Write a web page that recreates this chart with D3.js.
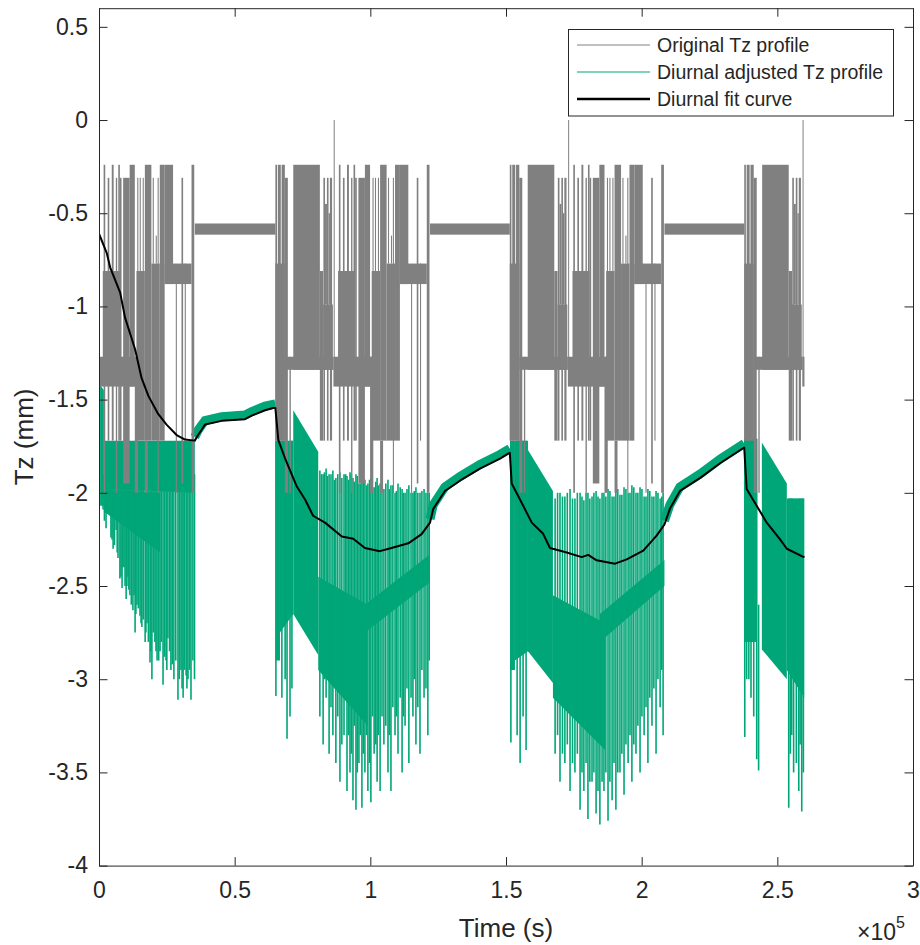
<!DOCTYPE html>
<html>
<head>
<meta charset="utf-8">
<script src="https://cdn.jsdelivr.net/npm/d3@7"></script>
<style>
  body { margin: 0; background: #fff; }
  svg text { font-family: "Liberation Sans", Arial, Helvetica, sans-serif; fill: #262626; }
</style>
</head>
<body>
<svg id="chart" width="920" height="945"></svg>
<script>
// ---- data (time in s, Tz in mm) ----

// the original profile repeats each day: blocks of dense oscillation, [start, end, top, bottom], seconds from day start
const grayPattern = [
  [0, 600, -0.24, -1.72], [900, 2000, -0.24, -1.72], [2300, 3500, -0.24, -1.72],
  [0, 3500, -0.77, -1.72], [3500, 4600, -0.31, -2.0], [3500, 21400, -1.27, -1.34],
  [21400, 36100, -1.27, -1.43],
  [5200, 5700, -1.27, -2.0], [6600, 16400, -0.24, -1.34], [16400, 17600, -0.81, -1.72],
  [17600, 21200, -0.99, -1.34], [17700, 18300, -0.31, -1.72], [18300, 19000, -0.45, -0.99],
  [19000, 19600, -0.31, -1.72], [19600, 20100, -0.5, -0.99],
  [20100, 20900, -0.31, -1.72], [21500, 21800, 0.0, -1.34], [23100, 29400, -0.81, -1.34],
  [23400, 24000, -0.24, -2.0], [24900, 25500, -0.31, -1.72], [26400, 27100, -0.24, -1.72],
  [27900, 28400, -0.31, -2.0], [28800, 29400, -0.24, -1.72], [29400, 30000, -0.31, -1.72],
  [30600, 33000, -0.31, -1.95], [33000, 34900, -0.24, -1.43], [34900, 36100, -1.27, -2.0],
  [35500, 38600, -0.81, -1.72], [35800, 36200, -0.31, -0.81], [36700, 37100, -0.31, -0.81],
  [37800, 38200, -0.31, -0.81], [38600, 41000, -0.24, -1.72], [38600, 39700, -1.72, -2.0],
  [41000, 44100, -0.77, -1.72], [41500, 41900, -0.31, -0.77], [42600, 43000, -0.62, -0.77],
  [43300, 43700, -0.31, -2.0], [44100, 45900, -0.24, -1.72], [45900, 49000, -0.24, -0.88],
  [45900, 55800, -0.77, -0.88], [50000, 50400, -0.88, -2.0], [52100, 52700, -0.31, -1.95],
  [53300, 53700, -0.77, -1.72], [55800, 56800, -0.24, -2.0]
];
const dayStarts = [-21700, 65000, 151400, 237800];
const nightSpans = [[35300, 65000], [122000, 151400], [208400, 237800]];
const nightLevel = [-0.555, -0.615];
const dataEnd = 260000;

// adjusted profile: dense blocks [t0, t1, top0, top1, bottom0, bottom1]
const greenBlocks = [
  [400, 1800, -1.42, -1.45, -2.07, -2.07],
  [1800, 35300, -1.72, -1.72, -1.98, -2.0],
  [1800, 22500, -1.98, -2.0, -2.1, -2.32],
  [65100, 66700, -1.72, -1.72, -2.9, -2.9],
  [66700, 71600, -1.72, -1.72, -2.75, -2.65],
  [71600, 80800, -1.557, -1.78, -2.65, -2.87],
  [80800, 99000, -2.45, -2.6, -2.95, -3.25],
  [98000, 122000, -2.6, -2.33, -2.75, -2.48],
  [151500, 153300, -1.72, -1.72, -2.95, -2.95],
  [153300, 158100, -1.72, -1.72, -2.9, -2.85],
  [158100, 167300, -1.77, -1.99, -2.85, -3.02],
  [167300, 186500, -2.55, -2.7, -3.1, -3.38],
  [184600, 208400, -2.65, -2.36, -2.8, -2.5],
  [237800, 242400, -1.71, -1.71, -2.8, -2.8],
  [244300, 253500, -1.73, -1.95, -2.84, -3.0],
  [253500, 259900, -2.03, -2.03, -2.95, -3.1]
];

// adjusted profile: single downward strokes [t, top, bottom]
const greenSpikes = [
  // day 1
  [1500, -1.9, -2.09], [2000, -1.9, -2.15], [2600, -1.9, -2.19], [3100, -1.9, -2.1], [3700, -1.9, -2.05],
  [4400, -1.9, -2.24], [4800, -1.9, -2.25], [5200, -1.9, -2.3], [5700, -1.9, -2.28], [6300, -1.9, -2.2],
  [6700, -1.9, -2.32], [7000, -1.9, -2.35], [7700, -1.9, -2.46], [8100, -1.9, -2.45], [8500, -1.9, -2.51],
  [8800, -1.9, -2.4], [9200, -1.9, -2.4], [9600, -1.9, -2.5], [10000, -1.9, -2.57], [10300, -1.9, -2.5],
  [10700, -1.9, -2.45], [11000, -1.9, -2.52], [11400, -1.9, -2.55], [11900, -1.9, -2.6], [12500, -1.9, -2.63],
  [12900, -1.9, -2.55], [13300, -1.9, -2.75], [13600, -1.9, -2.65], [14000, -1.9, -2.6], [14500, -1.9, -2.62],
  [15100, -1.9, -2.66], [15500, -1.9, -2.7], [15800, -1.9, -2.72], [16300, -1.9, -2.68], [17000, -1.9, -2.8],
  [17300, -1.9, -2.75], [17700, -1.9, -2.7], [18200, -1.9, -2.8], [18800, -1.9, -2.91], [19100, -1.9, -2.85],
  [19500, -1.9, -3.0], [20000, -1.9, -2.75], [20600, -1.9, -2.8], [21000, -1.9, -2.85], [21400, -1.9, -2.9],
  [22000, -1.9, -2.9], [22500, -1.9, -2.85], [23000, -1.9, -2.8], [23600, -1.9, -3.03], [24100, -1.9, -2.88],
  [24700, -1.9, -2.9], [25000, -1.9, -2.95], [25400, -1.9, -2.78], [26000, -1.9, -2.85], [26500, -1.9, -2.95],
  [27000, -1.9, -2.92], [27600, -1.9, -3.0], [28300, -1.9, -2.9], [29100, -1.9, -3.11], [29600, -1.9, -3.0],
  [30200, -1.9, -2.95], [30600, -1.9, -3.05], [31000, -1.9, -3.1], [31500, -1.9, -2.95], [32100, -1.9, -2.98],
  [32400, -1.9, -3.05], [32800, -1.9, -3.0], [33400, -1.9, -2.95], [33900, -1.9, -3.11], [34600, -1.9, -2.9],
  [35200, -1.9, -3.0],
  // day 2
  [65200, -1.72, -3.09], [67400, -1.72, -3.1], [68600, -1.72, -3.0], [69300, -1.72, -3.32], [70400, -1.72, -3.2],
  [71100, -1.72, -3.05], [81400, -1.88, -3.2], [82000, -1.9, -2.9], [82600, -1.9, -3.35], [83100, -1.89, -3.0],
  [83700, -1.87, -3.1], [84200, -1.91, -2.95], [84800, -1.9, -3.4], [85500, -1.9, -3.15], [86200, -1.88, -3.3],
  [86800, -1.93, -3.05], [87300, -1.92, -3.45], [88000, -1.9, -3.2], [88800, -1.89, -3.55], [89500, -1.92, -3.35],
  [90300, -1.9, -3.3], [90900, -1.9, -3.1], [91400, -1.91, -3.6], [92000, -1.93, -3.3], [92500, -1.89, -3.5],
  [93000, -1.9, -3.4], [93600, -1.92, -3.65], [94100, -1.94, -3.25], [94700, -1.9, -3.7], [95200, -1.91, -3.5],
  [95800, -1.95, -3.45], [96300, -1.95, -3.3], [96900, -1.9, -3.69], [97400, -1.92, -3.4], [98000, -1.93, -3.5],
  [98600, -1.96, -3.3], [99100, -1.95, -3.6], [99700, -1.93, -3.45], [100200, -1.92, -3.66], [100800, -1.97, -3.2],
  [101400, -1.97, -3.4], [102000, -1.94, -3.35], [102500, -1.92, -3.55], [103000, -1.96, -3.3], [103600, -1.95, -3.6],
  [104300, -1.97, -3.2], [105000, -1.98, -3.35], [105700, -1.95, -3.25], [106500, -1.93, -3.5], [107000, -1.98, -3.3],
  [107600, -1.96, -3.6], [108300, -1.96, -3.15], [109100, -2.0, -3.3], [109600, -1.99, -3.2], [110200, -1.95, -3.4],
  [111000, -1.97, -3.1], [111700, -1.98, -3.5], [112200, -2.0, -3.2], [112800, -2.0, -3.25], [113500, -1.98, -3.05],
  [114200, -1.96, -3.45], [115000, -2.0, -3.1], [115700, -2.0, -3.2], [116200, -1.99, -3.0], [116800, -1.97, -3.35],
  [117500, -2.0, -3.15], [118300, -2.0, -3.4], [119000, -1.99, -2.95], [119800, -1.98, -3.1], [120500, -2.0, -3.05],
  [121200, -2.0, -3.3], [121700, -2.0, -2.9],
  // day 3
  [151800, -1.72, -3.34], [154100, -1.72, -3.3], [155200, -1.72, -3.45], [156300, -1.72, -3.2], [157400, -1.72, -3.38],
  [168100, -2.03, -3.4], [169000, -2.0, -3.3], [169900, -2.0, -3.55], [170800, -2.02, -3.4], [171700, -2.02, -3.45],
  [172600, -2.0, -3.35], [173600, -1.98, -3.6], [174500, -2.03, -3.45], [175400, -2.03, -3.5], [176300, -2.0, -3.4],
  [177300, -2.0, -3.7], [178000, -2.02, -3.5], [178700, -2.04, -3.6], [179500, -2.0, -3.45], [180200, -2.0, -3.75],
  [180900, -2.03, -3.55], [181700, -2.02, -3.55], [182400, -2.0, -3.5], [183200, -1.99, -3.72], [183900, -2.02, -3.6],
  [184600, -2.03, -3.78], [185400, -2.0, -3.55], [186100, -2.0, -3.6], [186800, -2.02, -3.5], [187600, -1.98, -3.76],
  [188300, -1.99, -3.55], [189100, -2.02, -3.65], [189800, -2.02, -3.45], [190500, -1.97, -3.7], [191200, -1.98, -3.5],
  [192000, -2.01, -3.5], [192700, -2.01, -3.4], [193500, -1.97, -3.62], [194200, -1.98, -3.35], [195000, -2.0, -3.45],
  [195700, -2.0, -3.3], [196400, -1.96, -3.55], [197100, -1.97, -3.35], [197900, -2.0, -3.4], [198600, -2.0, -3.25],
  [199400, -1.97, -3.5], [200100, -1.98, -3.2], [200900, -2.02, -3.3], [201600, -2.02, -3.15], [202300, -1.98, -3.45],
  [203000, -1.99, -3.1], [203800, -2.02, -3.25], [204500, -2.02, -3.05], [205300, -1.99, -3.4], [206000, -2.0, -3.0],
  [206800, -2.03, -3.15], [207400, -2.02, -2.95], [207900, -2.0, -3.3],
  // day 4
  [238000, -1.71, -3.31], [238700, -1.71, -3.0], [239500, -1.71, -3.0], [240300, -1.71, -3.1], [241300, -1.71, -3.2],
  [242400, -1.71, -3.43], [243100, -2.6, -3.49], [254200, -2.03, -3.69], [254800, -2.03, -3.4], [255300, -2.03, -3.3],
  [256000, -2.03, -3.5], [257000, -2.03, -3.45], [257900, -2.03, -3.6], [258400, -2.03, -3.35], [259000, -2.03, -3.71],
  [259600, -2.03, -3.5]
];

// adjusted profile during the quiet nights (centre of the narrow band)
const nightGreen1 = [[35300, -1.70], [36500, -1.665], [37900, -1.635], [39100, -1.612], [45200, -1.592],
                     [53800, -1.583], [56300, -1.564], [61200, -1.535], [65000, -1.523]];
const nightGreen2 = [[122000, -2.14], [123200, -2.064], [127500, -1.968], [133000, -1.913], [140400, -1.848],
                     [147800, -1.794], [151400, -1.763]];
const nightGreen3 = [[208400, -2.15], [210400, -2.064], [214100, -1.968], [221600, -1.898], [229000, -1.818],
                     [237800, -1.735]];

// diurnal fit curve
const fitTime = [0, 2900, 4100, 7800, 9600, 13300, 15700, 18200, 21800, 24900, 28600, 31700, 35300, 36500,
  37900, 39100, 45200, 53800, 56300, 61200, 64200, 65000, 66100, 68600, 72800, 76000, 78900, 83300, 89500,
  93700, 98000, 103500, 107800, 114000, 118900, 122000, 123200, 127500, 133000, 140400, 147800, 150800,
  151400, 152100, 155200, 159500, 163700, 166200, 172400, 177900, 180300, 183400, 190200, 194500, 200600,
  205500, 208400, 210400, 214100, 221600, 229000, 237800, 238700, 246100, 251000, 253500, 259000, 260000];
const fitTz = [-0.61, -0.716, -0.79, -0.926, -1.06, -1.23, -1.385, -1.48, -1.577, -1.634, -1.69, -1.714, -1.72,
  -1.69, -1.66, -1.634, -1.614, -1.605, -1.586, -1.557, -1.545, -1.545, -1.717, -1.816, -1.963, -2.037, -2.123,
  -2.16, -2.234, -2.246, -2.296, -2.313, -2.296, -2.271, -2.222, -2.16, -2.086, -1.99, -1.935, -1.87, -1.816,
  -1.79, -1.785, -1.95, -2.037, -2.16, -2.22, -2.296, -2.32, -2.345, -2.333, -2.362, -2.38, -2.357, -2.31,
  -2.23, -2.17, -2.086, -1.99, -1.92, -1.84, -1.757, -1.98, -2.16, -2.25, -2.30, -2.34, -2.345];

const xTicks = [0, 50000, 100000, 150000, 200000, 250000, 300000];
const yTicks = [-4, -3.5, -3, -2.5, -2, -1.5, -1, -0.5, 0, 0.5];
const legendLabels = ["Original Tz profile", "Diurnal adjusted Tz profile", "Diurnal fit curve"];

// ---- drawing ----
const GRAY = "#808080", GREEN = "#00a677", AXIS = "#262626";
const svg = d3.select("#chart");

const x = d3.scaleLinear().domain([0, 300000]).range([99, 913]);
const y = d3.scaleLinear().domain([-4, 0.6]).range([865.6, 8.2]);

svg.append("defs").append("clipPath").attr("id", "plotClip")
  .append("rect")
  .attr("x", x(0)).attr("y", y(0.6))
  .attr("width", x(300000) - x(0)).attr("height", y(-4) - y(0.6));

const plot = svg.append("g").attr("clip-path", "url(#plotClip)");

// adjusted profile
const band = d3.area().x(d => x(d[0])).y0(d => y(d[2])).y1(d => y(d[1]));
plot.selectAll("path.gblock")
  .data(greenBlocks)
  .join("path")
  .attr("class", "gblock")
  .attr("d", b => band([[b[0], b[2], b[4]], [b[1], b[3], b[5]]]))
  .attr("fill", GREEN);

plot.selectAll("line.gspike")
  .data(greenSpikes)
  .join("line")
  .attr("class", "gspike")
  .attr("x1", d => x(d[0])).attr("x2", d => x(d[0]))
  .attr("y1", d => y(d[1])).attr("y2", d => y(d[2]))
  .attr("stroke", GREEN)
  .attr("stroke-width", 1.6);

const line = d3.line().x(d => x(d[0])).y(d => y(d[1]));
[nightGreen1, nightGreen2, nightGreen3].forEach(n => {
  plot.append("path")
    .attr("d", line(n))
    .attr("fill", "none")
    .attr("stroke", GREEN)
    .attr("stroke-width", 9);
});

// original profile, same pattern every day
const grayRects = [];
dayStarts.forEach(day => {
  grayPattern.forEach(p => {
    const t0 = Math.max(0, day + p[0]);
    const t1 = Math.min(dataEnd, day + p[1]);
    if (t1 > t0) grayRects.push([t0, t1, p[2], p[3]]);
  });
});
nightSpans.forEach(n => grayRects.push([n[0], n[1], nightLevel[0], nightLevel[1]]));

plot.selectAll("rect.gray")
  .data(grayRects)
  .join("rect")
  .attr("class", "gray")
  .attr("x", d => x(d[0]))
  .attr("width", d => Math.max(1, x(d[1]) - x(d[0])))
  .attr("y", d => y(d[2]))
  .attr("height", d => y(d[3]) - y(d[2]))
  .attr("fill", GRAY);

// fit curve
plot.append("path")
  .attr("d", line(fitTime.map((t, i) => [t, fitTz[i]])))
  .attr("fill", "none")
  .attr("stroke", "#000")
  .attr("stroke-width", 2)
  .attr("stroke-linejoin", "round");

// ---- axes (MATLAB style box, ticks inside) ----
const tickLen = 8.5;
const styleAxis = g => {
  g.select(".domain").attr("stroke", AXIS).attr("stroke-width", 1);
  g.selectAll(".tick line").attr("stroke", AXIS).attr("stroke-width", 1);
  g.selectAll(".tick text").attr("font-size", 23).attr("fill", AXIS)
    .attr("font-family", '"Liberation Sans", Arial, Helvetica, sans-serif');
};

svg.append("g")
  .attr("transform", `translate(0,${y(-4)})`)
  .call(d3.axisBottom(x).tickValues(xTicks).tickSize(-tickLen).tickSizeOuter(0).tickPadding(16)
    .tickFormat(d => String(d / 100000)))
  .call(styleAxis);

svg.append("g")
  .attr("transform", `translate(0,${y(0.6)})`)
  .call(d3.axisTop(x).tickValues(xTicks).tickSize(-tickLen).tickSizeOuter(0).tickFormat(""))
  .call(styleAxis);

svg.append("g")
  .attr("transform", `translate(${x(0)},0)`)
  .call(d3.axisLeft(y).tickValues(yTicks).tickSize(-tickLen).tickSizeOuter(0).tickPadding(11)
    .tickFormat(d => String(d)))
  .call(styleAxis);

svg.append("g")
  .attr("transform", `translate(${x(300000)},0)`)
  .call(d3.axisRight(y).tickValues(yTicks).tickSize(-tickLen).tickSizeOuter(0).tickFormat(""))
  .call(styleAxis);

// axis labels
svg.append("text")
  .attr("x", (x(0) + x(300000)) / 2)
  .attr("y", 936.5)
  .attr("text-anchor", "middle")
  .attr("font-size", 26)
  .text("Time (s)");

svg.append("text")
  .attr("transform", `translate(33,${(y(-4) + y(0.6)) / 2}) rotate(-90)`)
  .attr("text-anchor", "middle")
  .attr("font-size", 26)
  .text("Tz (mm)");

const expo = svg.append("text")
  .attr("x", 857)
  .attr("y", 940)
  .attr("font-size", 23);
expo.append("tspan").text("×10");
expo.append("tspan").attr("dy", -12).attr("font-size", 16).text("5");

// ---- legend ----
const legend = svg.append("g");
legend.append("rect")
  .attr("x", 568.5).attr("y", 29.5)
  .attr("width", 325).attr("height", 86.5)
  .attr("fill", "#fff")
  .attr("stroke", AXIS)
  .attr("stroke-width", 1);

const legendStyle = [
  { color: GRAY, width: 1 },
  { color: GREEN, width: 1.2 },
  { color: "#000", width: 2.5 }
];
const legendRows = [45, 72, 99];
legendLabels.forEach((label, i) => {
  legend.append("line")
    .attr("x1", 577).attr("x2", 650)
    .attr("y1", legendRows[i]).attr("y2", legendRows[i])
    .attr("stroke", legendStyle[i].color)
    .attr("stroke-width", legendStyle[i].width);
  legend.append("text")
    .attr("x", 657)
    .attr("y", legendRows[i])
    .attr("dy", "0.35em")
    .attr("font-size", 19.5)
    .text(label);
});
</script>
</body>
</html>
